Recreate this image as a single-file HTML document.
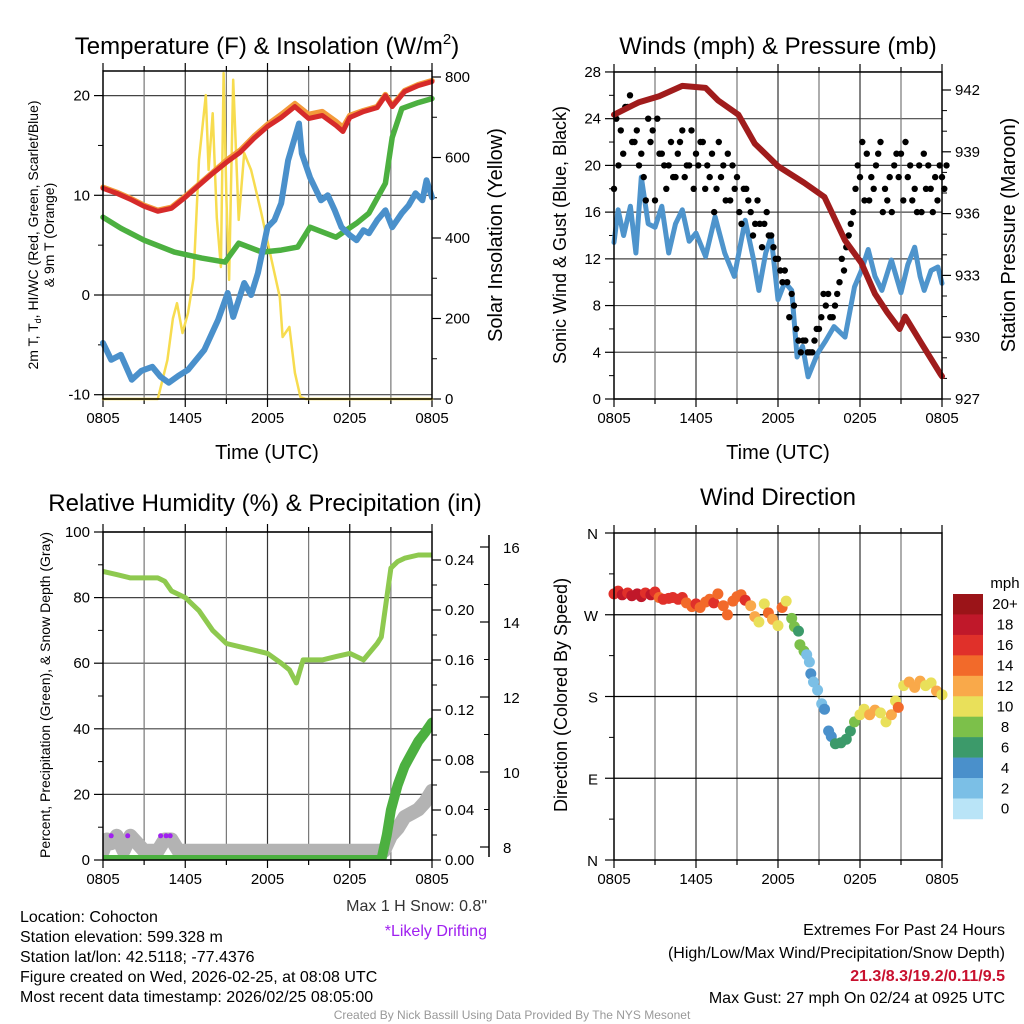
<!DOCTYPE html>
<html><head><meta charset="utf-8"><style>
body{margin:0;background:#fff;}
svg{display:block;font-family:"Liberation Sans",Arial,sans-serif;}
</style></head><body>
<svg id="s" width="1024" height="1024" viewBox="0 0 1024 1024">
<g id="txt" fill="#000">
<text x="267" y="54" font-size="24" text-anchor="middle">Temperature (F) &amp; Insolation (W/m<tspan font-size="15" dy="-10">2</tspan><tspan dy="10">)</tspan></text>
<text x="778" y="54" font-size="24" text-anchor="middle">Winds (mph) &amp; Pressure (mb)</text>
<text x="265" y="511" font-size="24" text-anchor="middle">Relative Humidity (%) &amp; Precipitation (in)</text>
<text x="778" y="505" font-size="24" text-anchor="middle">Wind Direction</text>
<text x="267" y="459" font-size="20" text-anchor="middle">Time (UTC)</text>
<text x="778" y="459" font-size="20" text-anchor="middle">Time (UTC)</text>
<text transform="translate(38,235) rotate(-90)" font-size="14" text-anchor="middle">2m T, T<tspan font-size="9" dy="3">d</tspan><tspan dy="-3">, HI/WC (Red, Green, Scarlet/Blue)</tspan></text>
<text transform="translate(54,235) rotate(-90)" font-size="14" text-anchor="middle">&amp; 9m T (Orange)</text>
<text transform="translate(502,235) rotate(-90)" font-size="20" text-anchor="middle">Solar Insolation (Yellow)</text>
<text transform="translate(566,235) rotate(-90)" font-size="18" text-anchor="middle">Sonic Wind &amp; Gust (Blue, Black)</text>
<text transform="translate(1015,235) rotate(-90)" font-size="20" text-anchor="middle">Station Pressure (Maroon)</text>
<text transform="translate(50,695) rotate(-90)" font-size="14" text-anchor="middle">Percent, Precipitation (Green), &amp; Snow Depth (Gray)</text>
<text transform="translate(567,695) rotate(-90)" font-size="18" text-anchor="middle">Direction (Colored By Speed)</text>
<text x="487" y="911" font-size="16" text-anchor="end" fill="#333">Max 1 H Snow: 0.8"</text>
<text x="487" y="936" font-size="16" text-anchor="end" fill="#a020f0">*Likely Drifting</text>
<g font-size="16">
<text x="20" y="922">Location: Cohocton</text>
<text x="20" y="942">Station elevation: 599.328 m</text>
<text x="20" y="962">Station lat/lon: 42.5118; -77.4376</text>
<text x="20" y="982">Figure created on Wed, 2026-02-25, at 08:08 UTC</text>
<text x="20" y="1002">Most recent data timestamp: 2026/02/25 08:05:00</text>
</g>
<g font-size="16" text-anchor="end">
<text x="1005" y="935">Extremes For Past 24 Hours</text>
<text x="1005" y="958">(High/Low/Max Wind/Precipitation/Snow Depth)</text>
<text x="1005" y="981" fill="#c8102e" font-weight="bold">21.3/8.3/19.2/0.11/9.5</text>
<text x="1005" y="1003">Max Gust: 27 mph On 02/24 at 0925 UTC</text>
</g>
<text x="512" y="1019" font-size="12" text-anchor="middle" fill="#999">Created By Nick Bassill Using Data Provided By The NYS Mesonet</text>
<text x="1005" y="588" font-size="15" text-anchor="middle">mph</text>
</g>
</svg>
<script>
// ---- data (hours since 0805 UTC) ----
const xTicks = ["0805","1405","2005","0205","0805"];
const redHrs = [0,1,2,3,4,5,6,7,8,9,10,11,12,13,14,15,16,17,17.5,18,19,20,20.6,21.1,22,23,24];
const tempRed = [10.7,10.2,9.6,8.9,8.4,8.7,9.8,11,12.2,13.3,14.3,15.7,16.9,17.8,18.9,17.7,18,17,16.4,17.8,18.4,18.8,20,18.9,20.4,21,21.4];
const tempOrange = [10.8,10.3,9.7,9.0,8.5,8.8,9.9,11.1,12.3,13.5,14.5,15.9,17.1,18.1,19.2,18.1,18.4,17.4,16.8,18.0,18.5,18.9,20.1,19.0,20.5,21.1,21.5];
const greenHrs = [0,1.3,3,5.2,7.2,8.9,9.9,11.6,13,14.2,15.1,17,18.5,19.4,20.6,21.1,21.8,23,24];
const dewGreen = [7.8,6.7,5.5,4.3,3.7,3.3,5.2,4.3,4.5,4.8,6.8,5.8,7.2,8.2,11.2,15.8,18.7,19.3,19.7];
const wcHrs = [0,0.6,1.3,2.1,2.8,3.6,4.2,4.8,5.5,6.2,6.8,7.4,8.4,9.1,9.5,10.3,10.8,11.3,12,12.5,13,13.5,14.3,14.5,15.1,15.9,16.4,16.9,17.4,18,18.5,19,19.4,20,20.6,21.1,21.8,22.3,22.8,23.3,23.6,24];
const windChill = [-4.8,-6.5,-6,-8.5,-7.6,-7.2,-8.2,-8.8,-8.1,-7.5,-6.5,-5.5,-2.5,0.2,-2.2,1.2,0,2.2,6.8,7.5,9.2,13.5,17.2,14.2,11.8,9.5,10,8.5,6.8,6,5.5,6.5,6.2,7.5,8.5,6.8,8.2,9,10.2,9.5,11.5,9.8];
const solarHrs = [0,4,4.7,5.1,5.4,5.8,6.2,6.6,7.0,7.5,7.7,8.0,8.3,8.6,8.8,9.0,9.2,9.5,9.9,10.3,10.8,11.5,12.3,12.9,13.1,13.6,14,14.4,14.8,24];
const solar = [0,0,97,200,238,164,214,300,594,755,569,710,450,328,810,500,296,793,445,611,569,470,345,253,154,179,65,5,0,0];
const spdHrs = [0,0.3,0.7,1.2,1.6,2,2.5,3,3.5,4,4.5,5,5.5,6,6.7,7.4,8.1,8.8,9.6,10.2,10.6,11.1,11.5,12,12.5,13,13.4,13.8,14.2,14.9,15.5,16.1,16.9,17.6,18.1,18.6,19.1,19.6,20.3,21,21.5,22,22.4,22.7,23.2,23.7,24];
const windSpd = [13.4,16.2,14,16.5,12.5,19,15,14.7,16.5,12.5,15,16.2,13.5,14.2,12.2,15.6,12.5,10.5,15.3,12,9.3,12.5,13.9,8.5,10,9.3,3.6,4.5,1.9,3.9,5,6.2,5.3,9.6,11,12.8,10.5,9.3,11.9,9.1,11.5,13,10.5,9.3,11,11.3,9.9];
const hrsHalf = [0,0.5,1,1.5,2,2.5,3,3.5,4,4.5,5,5.5,6,6.5,7,7.5,8,8.5,9,9.5,10,10.5,11,11.5,12,12.5,13,13.5,14,14.5,15,15.5,16,16.5,17,17.5,18,18.5,19,19.5,20,20.5,21,21.5,22,22.5,23,23.5,24];
const gustA = [18,23,25,22,21,24,17,21,20,19,23,20,21,22,19,18,20,17,19,18,16,17,15,14,12,11,9,5,5,4,6,8,7,10,13,16,19,21,18,22,17,20,21,19,18,16,20,19,19];
const gustB = [24,21,26,23,19,22,24,20,22,21,19,23,20,18,21,22,17,20,16,18,14,15,16,13,11,10,8,4,4,5,7,9,8,12,14,18,22,17,20,16,19,21,17,20,16,21,18,17,18];
const gustC = [20,25,22,20,17,23,21,18,19,22,20,18,22,20,16,19,21,18,15,17,15,13,14,12,10,7,6,5,4,6,9,7,9,11,15,20,17,19,21,18,16,19,22,17,20,18,16,20,20];
const presHrs = [0,1.8,3.3,5.0,6.7,7.6,9.1,10.3,12,13.9,15.4,16.9,18.1,19.1,20.0,20.9,21.3,22.5,23.9,24];
const pressure = [940.8,941.4,941.7,942.2,942.1,941.5,940.8,939.4,938.3,937.5,936.8,934.7,933.6,932.1,931.2,930.4,931.0,929.7,928.2,928.1];
const rhHrs = [0,1,2,3,4,4.5,5,6,7,8,9,10,11,12,13,13.6,14.1,14.6,16,17,18,19,20,20.3,21,21.5,22,23,24];
const rh = [88,87,86,86,86,85,82,80,76,70,66,65,64,63,60,58,54,61,61,62,63,61,66,68,89,91,92,93,93];
const precipHrs = [0,20.3,20.7,21,21.5,22,22.5,23,23.5,24];
const precip = [0,0,0.02,0.04,0.06,0.075,0.085,0.095,0.102,0.11];
const snowHrs = [0,0.3,0.6,1,1.5,2,2.5,3,4,4.5,5,5.5,6,7,8,10,12,14,16,18,20,20.5,21,21.5,22,22.5,23,23.5,24];
const snow = [7.9,8.2,8.1,8.3,7.9,8.3,8.1,7.9,7.9,8.2,8.2,7.9,7.9,7.9,7.9,7.9,7.9,7.9,7.9,7.9,7.9,7.9,8.3,8.5,8.8,8.9,9.0,9.2,9.5];
const driftHrs = [0.6,1.8,4.2,4.6,4.9];
const driftVal = [8.3,8.3,8.3,8.3,8.3];
const dirHrs = [0,0.3,0.6,1,1.3,1.7,2,2.3,2.7,3,3.3,3.6,4,4.3,4.7,5,5.3,5.7,6,6.3,6.7,7,7.3,7.6,8,8.3,8.7,9,9.3,9.6,10,10.3,10.6,11,11.3,11.6,12,12.3,12.6,13,13.2,13.5,13.6,13.9,14.1,14.3,14.4,14.6,14.9,15.2,15.4,15.7,15.9,16.2,16.6,17,17.3,17.6,18,18.3,18.7,19.1,19.5,19.9,20.3,20.6,20.8,21.2,21.6,22,22.4,22.8,23.2,23.6,24];
const dir = [293,296,292,294,291,293,290,294,292,295,289,287,288,289,287,289,283,279,282,278,284,287,283,293,280,270,285,290,292,286,280,268,262,282,272,265,258,278,285,266,257,252,237,230,226,218,205,196,187,172,166,142,136,128,129,133,142,152,160,166,160,165,162,152,160,175,168,192,196,190,197,192,195,186,182];
const dirSpd = [17,16,18,17,18,19,18,17,18,16,15,16,17,16,17,16,15,15,16,15,15,14,16,15,14,15,14,15,14,17,12,13,11,11,14,13,10,15,10,8,8,6,8,8,3,3,4,3,3,3,4,4,5,6,6,6,7,8,10,11,12,13,11,10,12,11,14,10,12,12,13,11,10,13,10];
const cbColors = ["#b9e4f7","#7bbfe6","#4a90cb","#3c9a6a","#7cc04a","#e9e05a","#f9a94a","#f26a2a","#e0302a","#c0182a","#9b1418"];
const cbLabels = ["0","2","4","6","8","10","12","14","16","18","20+"];

const NS="http://www.w3.org/2000/svg";
const svg=document.getElementById('s');
function mk(tag,attrs,parent){const e=document.createElementNS(NS,tag);for(const k in attrs)e.setAttribute(k,attrs[k]);(parent||svg).appendChild(e);return e;}
function txt(x,y,s,size,anchor,parent){const t=mk('text',{x:x,y:y,'font-size':size,'text-anchor':anchor||'middle'},parent);t.textContent=s;return t;}

function panel(name,x0,x1,y0,y1){
  const g=mk('g',{});
  
  
  return {g,x0,x1,y0,y1,X:h=>x0+(x1-x0)*h/24};
}
function xAxis(p,grid){
  if(grid) for(let h=3;h<24;h+=3){const x=p.X(h);mk('line',{x1:x,x2:x,y1:p.y0,y2:p.y1,stroke:h%6?'#777':'#333','stroke-width':1.2},p.g);}
  for(let h=0;h<=24;h+=3){const x=p.X(h);
    mk('line',{x1:x,x2:x,y1:p.y1,y2:p.y1+(h%6?5:8),stroke:'#000','stroke-width':1.2},p.g);
    mk('line',{x1:x,x2:x,y1:p.y0,y2:p.y0-(h%6?5:8),stroke:'#000','stroke-width':1.2},p.g);}
  for(let i=0;i<5;i++){const x=p.X(i*6);
    const t=txt(x,p.y1+24,xTicks[i],15,'middle',p.g);
    
    
  }
}
function yAxis(p,vals,Y,fmt,side,grid,minors){
  const xa=side==='left'?p.x0:p.x1, d=side==='left'?-1:1;
  vals.forEach(v=>{const y=Y(v);
    if(grid) mk('line',{x1:p.x0,x2:p.x1,y1:y,y2:y,stroke:'#444','stroke-width':1.2},p.g);
    mk('line',{x1:xa,x2:xa+d*9,y1:y,y2:y,stroke:'#000','stroke-width':1.2},p.g);
    const t=txt(xa+d*13,y+5,fmt(v),15,side==='left'?'end':'start',p.g);
    
    
  });
  (minors||[]).forEach(v=>{const y=Y(v);mk('line',{x1:xa,x2:xa+d*5,y1:y,y2:y,stroke:'#000','stroke-width':1},p.g);});
}
function frame(p){mk('rect',{x:p.x0,y:p.y0,width:p.x1-p.x0,height:p.y1-p.y0,fill:'none',stroke:'#000','stroke-width':1.5},p.g);}
function line(p,xs,ys,X,Y,color,w,name){
  const d=xs.map((h,i)=>(i?'L':'M')+X(h).toFixed(1)+','+Y(ys[i]).toFixed(1)).join('');
  const e=mk('path',{d:d,fill:'none',stroke:color,'stroke-width':w,'stroke-linejoin':'round','stroke-linecap':'round'},p.g);
  
  
  return e;
}
function dots(p,xs,ys,X,Y,r,colorFn,name){
  const g=mk('g',{},p.g);
  
  
  xs.forEach((h,i)=>mk('circle',{cx:X(h).toFixed(1),cy:Y(ys[i]).toFixed(1),r:r,fill:colorFn(i)},g));
}
function clipFor(p,id){const c=mk('clipPath',{id:id});mk('rect',{x:p.x0,y:p.y0,width:p.x1-p.x0,height:p.y1-p.y0},c);}

// ---- Panel 1 ----
const p1=panel('temperature-panel',103,432,71,399);
const T1=v=>295-v*9.97, S1=v=>399-v*0.4025;
yAxis(p1,[-10,0,10,20],T1,v=>v,'left',true,[-5,5,15]);
yAxis(p1,[0,200,400,600,800],S1,v=>v,'right',false,[100,300,500,700]);
xAxis(p1,true);
line(p1,solarHrs,solar,p1.X,S1,'#f7dc4f',2.5,'solar-insolation-line');
line(p1,greenHrs,dewGreen,p1.X,T1,'#4cb040',5.5,'dewpoint-line');
line(p1,wcHrs,windChill,p1.X,T1,'#4a90cb',6,'wind-chill-line');
line(p1,redHrs,tempOrange,p1.X,T1,'#f39a3a',5.5,'temp-9m-line');
line(p1,redHrs,tempRed,p1.X,T1,'#d62a2a',5,'temp-2m-line');
frame(p1);

// ---- Panel 2 ----
const p2=panel('wind-panel',614,942,72,399);
const W2=v=>399-v*11.68, P2=v=>399-(v-927)*20.6;
yAxis(p2,[0,4,8,12,16,20,24,28],W2,v=>v,'left',true,[2,6,10,14,18,22,26]);
yAxis(p2,[927,930,933,936,939,942],P2,v=>v,'right',false,[928,929,931,932,934,935,937,938,940,941]);
xAxis(p2,true);
line(p2,spdHrs,windSpd,p2.X,W2,'#4e94cc',5,'sonic-wind-line');
dots(p2,hrsHalf,gustA,p2.X,W2,3.2,()=>'#000','gust-points-a');
dots(p2,hrsHalf.map(h=>h+0.17),gustB,p2.X,W2,3.2,()=>'#000','gust-points-b');
dots(p2,hrsHalf.map(h=>h+0.33),gustC,p2.X,W2,3.2,()=>'#000','gust-points-c');
line(p2,presHrs,pressure,p2.X,P2,'#a01c1c',6,'pressure-line');
frame(p2);

// ---- Panel 3 ----
const p3=panel('humidity-panel',103,432,532,860);
const R3=v=>860-v*3.28, Q3=v=>860-v*(300/0.24), N3=v=>847-(v-8)*37.5;
yAxis(p3,[0,20,40,60,80,100],R3,v=>v,'left',true,[10,30,50,70,90]);
yAxis(p3,[0,0.04,0.08,0.12,0.16,0.20,0.24],Q3,v=>v.toFixed(2),'right',false,[0.02,0.06,0.10,0.14,0.18,0.22]);
xAxis(p3,true);
mk('line',{x1:489,x2:489,y1:535,y2:857,stroke:'#000','stroke-width':1.5},p3.g);
[8,10,12,14,16].forEach(v=>{const y=N3(v);mk('line',{x1:489,x2:480,y1:y,y2:y,stroke:'#000','stroke-width':1.2},p3.g);
  const t=txt(503,y+6,String(v),15,'start',p3.g);
  
  });
[9,11,13,15].forEach(v=>{const y=N3(v);mk('line',{x1:489,x2:484,y1:y,y2:y,stroke:'#000','stroke-width':1},p3.g);});
clipFor(p3,'c3');
const g3=mk('g',{'clip-path':'url(#c3)'},p3.g);
const P3={g:g3};
line(P3,snowHrs,snow,p3.X,N3,'#b3b3b3',14,'snow-depth-line');
dots(P3,driftHrs,driftVal,p3.X,N3,2.5,()=>'#a020f0','drifting-marks');
line(P3,rhHrs,rh,p3.X,R3,'#8ec94f',5,'rh-line');
line(P3,precipHrs,precip,p3.X,Q3,'#4cb040',10,'precip-line');
frame(p3);

// ---- Panel 4 ----
const p4=panel('direction-panel',614,942,533,860);
const D4=v=>860-v*(327/360);
const dirLabels=["N","E","S","W","N"];
xAxis(p4,true);
[0,90,180,270,360].forEach((v,i)=>{const y=D4(v);
  if(i>0&&i<4) mk('line',{x1:p4.x0,x2:p4.x1,y1:y,y2:y,stroke:'#000','stroke-width':1.2},p4.g);
  mk('line',{x1:p4.x0,x2:p4.x0-9,y1:y,y2:y,stroke:'#000','stroke-width':1.2},p4.g);
  const t=txt(p4.x0-16,y+6,dirLabels[i],15,'end',p4.g);
  
  });
[45,135,225,315].forEach(v=>{const y=D4(v);mk('line',{x1:p4.x0,x2:p4.x0-5,y1:y,y2:y,stroke:'#000','stroke-width':1},p4.g);});
dots(p4,dirHrs,dir,p4.X,D4,5.5,i=>cbColors[Math.min(10,Math.floor(dirSpd[i]/2))],'direction-points');
frame(p4);
// colorbar
const cb=mk('g',{});


const cbTop=594, cbH=20.45;
cbColors.slice().reverse().forEach((c,i)=>{mk('rect',{x:953,y:cbTop+i*cbH,width:30,height:cbH+0.3,fill:c},cb);});
cbLabels.slice().reverse().forEach((s,i)=>{const t=txt(1005,cbTop+(i+0.5)*cbH+5,s,15,'middle',cb);
  
  });
</script>
</body></html>
